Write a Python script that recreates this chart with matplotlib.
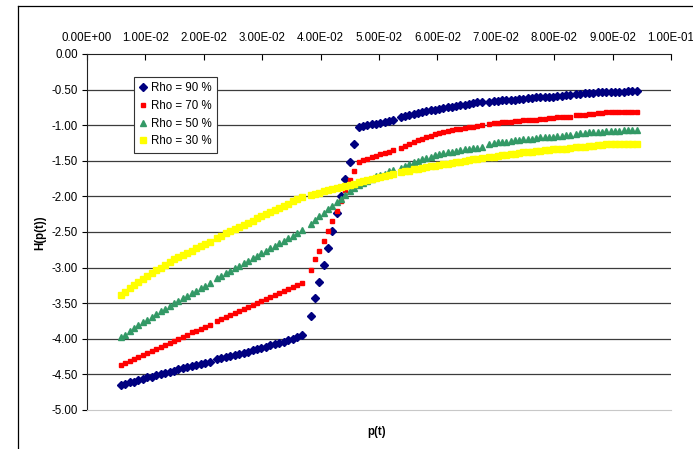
import matplotlib
matplotlib.use('Agg')
import matplotlib.pyplot as plt
from matplotlib.lines import Line2D

plt.rcParams['font.family'] = ['Liberation Sans', 'DejaVu Sans']
plt.rcParams['axes.unicode_minus'] = False

# p(t) values (x axis)
p_t = [0.00577, 0.00653, 0.00729, 0.00805, 0.00881, 0.00958, 0.01034, 0.01110, 0.01186, 0.01262,
       0.01338, 0.01414, 0.01490, 0.01566, 0.01643, 0.01719, 0.01795, 0.01871, 0.01947, 0.02023, 0.02099,
       0.02221, 0.02298, 0.02374, 0.02451, 0.02527, 0.02604, 0.02681, 0.02757, 0.02834, 0.02910,
       0.02987, 0.03064, 0.03140, 0.03217, 0.03293, 0.03370, 0.03446, 0.03523, 0.03600, 0.03676,
       0.03830, 0.03905, 0.03979, 0.04054, 0.04128, 0.04203, 0.04277, 0.04352, 0.04426, 0.04501,
       0.04575, 0.04650, 0.04724, 0.04799, 0.04873, 0.04948, 0.05022, 0.05097, 0.05171, 0.05245,
       0.05372, 0.05445, 0.05518, 0.05591, 0.05664, 0.05737, 0.05810, 0.05883, 0.05956, 0.06029,
       0.06102, 0.06175, 0.06248, 0.06321, 0.06394, 0.06467, 0.06540, 0.06613, 0.06686, 0.06759,
       0.06889, 0.06962, 0.07035, 0.07107, 0.07180, 0.07253, 0.07325, 0.07398, 0.07471, 0.07544,
       0.07616, 0.07689, 0.07762, 0.07834, 0.07907, 0.07980, 0.08053, 0.08125, 0.08198, 0.08271,
       0.08373, 0.08447, 0.08522, 0.08596, 0.08670, 0.08745, 0.08819, 0.08893, 0.08968, 0.09042,
       0.09116, 0.09190, 0.09265, 0.09339, 0.09413]

# H(p(t)) for each Rho
h_rho90 = [-4.65, -4.63, -4.61, -4.60, -4.58, -4.56, -4.54, -4.53, -4.51, -4.49, -4.48, -4.46, -4.45,
           -4.43, -4.41, -4.40, -4.38, -4.37, -4.35, -4.34, -4.32,
           -4.29, -4.27, -4.26, -4.24, -4.23, -4.21, -4.20, -4.18, -4.16, -4.15, -4.13, -4.11, -4.09,
           -4.08, -4.06, -4.04, -4.02, -4.00, -3.97, -3.94,
           -3.68, -3.43, -3.20, -2.96, -2.72, -2.48, -2.24, -2.00, -1.75, -1.51, -1.26, -1.02, -1.01,
           -1.00, -0.99, -0.98, -0.97, -0.96, -0.94, -0.93,
           -0.89, -0.87, -0.86, -0.84, -0.83, -0.81, -0.80, -0.79, -0.78, -0.77, -0.76, -0.75, -0.74,
           -0.73, -0.72, -0.71, -0.70, -0.69, -0.68, -0.67,
           -0.67, -0.66, -0.66, -0.65, -0.65, -0.64, -0.64, -0.63, -0.63, -0.62, -0.62, -0.61, -0.61,
           -0.60, -0.60, -0.60, -0.59, -0.59, -0.58, -0.58,
           -0.56, -0.56, -0.55, -0.55, -0.55, -0.54, -0.54, -0.54, -0.53, -0.53, -0.53, -0.53, -0.52,
           -0.52, -0.52]

h_rho70 = [-4.37, -4.34, -4.31, -4.28, -4.26, -4.23, -4.20, -4.17, -4.14, -4.11, -4.09, -4.06, -4.03,
           -4.00, -3.97, -3.94, -3.91, -3.89, -3.86, -3.83, -3.80,
           -3.75, -3.72, -3.69, -3.67, -3.64, -3.61, -3.58, -3.55, -3.52, -3.50, -3.47, -3.44, -3.41,
           -3.38, -3.36, -3.33, -3.30, -3.27, -3.24, -3.21,
           -3.03, -2.88, -2.76, -2.62, -2.48, -2.34, -2.20, -2.07, -1.91, -1.77, -1.64, -1.51, -1.49,
           -1.47, -1.45, -1.43, -1.41, -1.39, -1.37, -1.35,
           -1.32, -1.29, -1.26, -1.23, -1.21, -1.19, -1.17, -1.15, -1.13, -1.11, -1.09, -1.08, -1.07,
           -1.06, -1.05, -1.04, -1.03, -1.02, -1.01, -1.00,
           -0.98, -0.97, -0.97, -0.96, -0.95, -0.95, -0.94, -0.94, -0.93, -0.93, -0.92, -0.92, -0.91,
           -0.91, -0.90, -0.90, -0.89, -0.89, -0.88, -0.88,
           -0.86, -0.85, -0.85, -0.84, -0.84, -0.83, -0.83, -0.82, -0.82, -0.82, -0.82, -0.82, -0.82,
           -0.82, -0.82]

h_rho50 = [-3.98, -3.94, -3.89, -3.85, -3.81, -3.77, -3.73, -3.69, -3.65, -3.61, -3.58, -3.54, -3.50,
           -3.47, -3.43, -3.40, -3.36, -3.33, -3.29, -3.26, -3.22,
           -3.15, -3.12, -3.08, -3.05, -3.01, -2.98, -2.94, -2.91, -2.87, -2.84, -2.80, -2.77, -2.73,
           -2.70, -2.66, -2.63, -2.59, -2.56, -2.52, -2.47,
           -2.39, -2.33, -2.28, -2.23, -2.18, -2.13, -2.08, -2.03, -1.98, -1.93, -1.88, -1.84, -1.81,
           -1.78, -1.75, -1.72, -1.70, -1.68, -1.65, -1.63,
           -1.60, -1.57, -1.55, -1.52, -1.50, -1.48, -1.46, -1.44, -1.42, -1.41, -1.39, -1.38, -1.37,
           -1.36, -1.35, -1.34, -1.33, -1.32, -1.32, -1.31,
           -1.26, -1.25, -1.24, -1.24, -1.23, -1.22, -1.21, -1.21, -1.20, -1.19, -1.19, -1.18, -1.17,
           -1.17, -1.16, -1.16, -1.15, -1.15, -1.14, -1.14,
           -1.12, -1.11, -1.11, -1.10, -1.10, -1.09, -1.09, -1.08, -1.08, -1.08, -1.08, -1.07, -1.07,
           -1.07, -1.07]

h_rho30 = [-3.39, -3.34, -3.29, -3.24, -3.20, -3.16, -3.12, -3.08, -3.04, -3.00, -2.96, -2.92, -2.88,
           -2.85, -2.82, -2.79, -2.76, -2.73, -2.70, -2.67, -2.64,
           -2.58, -2.55, -2.52, -2.49, -2.46, -2.43, -2.40, -2.37, -2.34, -2.31, -2.28, -2.25, -2.22,
           -2.19, -2.16, -2.13, -2.10, -2.07, -2.04, -2.01,
           -1.98, -1.96, -1.95, -1.93, -1.91, -1.90, -1.88, -1.87, -1.85, -1.84, -1.82, -1.80, -1.79,
           -1.77, -1.76, -1.74, -1.73, -1.71, -1.70, -1.69,
           -1.66, -1.65, -1.64, -1.62, -1.61, -1.60, -1.59, -1.58, -1.57, -1.56, -1.55, -1.54, -1.53,
           -1.52, -1.51, -1.50, -1.49, -1.48, -1.47, -1.46,
           -1.45, -1.44, -1.43, -1.42, -1.42, -1.41, -1.40, -1.39, -1.38, -1.38, -1.37, -1.36, -1.36,
           -1.35, -1.35, -1.34, -1.34, -1.33, -1.33, -1.32,
           -1.31, -1.30, -1.30, -1.29, -1.29, -1.28, -1.28, -1.27, -1.27, -1.27, -1.27, -1.27, -1.27,
           -1.27, -1.27]

labels = ['Rho = 90 %', 'Rho = 70 %', 'Rho = 50 %', 'Rho = 30 %']
x_ticks = [0.0, 0.01, 0.02, 0.03, 0.04, 0.05, 0.06, 0.07, 0.08, 0.09, 0.10]
x_tick_labels = ['0.00E+00', '1.00E-02', '2.00E-02', '3.00E-02', '4.00E-02', '5.00E-02',
                 '6.00E-02', '7.00E-02', '8.00E-02', '9.00E-02', '1.00E-01']
y_ticks = [0.0, -0.5, -1.0, -1.5, -2.0, -2.5, -3.0, -3.5, -4.0, -4.5, -5.0]

fs = 8.3
fig = plt.figure(figsize=(6.93, 4.49), dpi=100)
ax = fig.add_axes([87 / 693, 1 - 410 / 449, 584 / 693, 356 / 449])

# gridlines
for yv in y_ticks[1:-1]:
    ax.axhline(yv, color='#3c3c3c', linewidth=0.9, zorder=1)

ax.plot(p_t, h_rho90, linestyle='none', marker='D', markersize=4.4, color='#000080', label=labels[0], zorder=3)
ax.plot(p_t, h_rho70, linestyle='none', marker='s', markersize=3.0, color='#FF0000', label=labels[1], zorder=3)
ax.plot(p_t, h_rho50, linestyle='none', marker='^', markersize=4.6, color='#339966', label=labels[2], zorder=3)
ax.plot(p_t, h_rho30, linestyle='none', marker='s', markersize=4.3, color='#FFFF00', label=labels[3], zorder=3)

ax.set_xlim(0, 0.1)
ax.set_ylim(-5, 0)

ax.xaxis.tick_top()
ax.set_xticks(x_ticks)
ax.set_xticklabels(x_tick_labels, fontsize=fs)
ax.tick_params(axis='x', direction='in', length=4, width=0.8, pad=7)
ax.set_yticks(y_ticks)
ax.set_yticklabels(['%.2f' % v for v in y_ticks], fontsize=fs)
ax.tick_params(axis='y', direction='out', length=3.5, width=0.8, pad=3)

ax.spines['right'].set_visible(False)
ax.spines['bottom'].set_color('#c8c8c8')
ax.spines['top'].set_color('#222222')
ax.spines['left'].set_color('#222222')

fig.text(40 / 693, 1 - 233 / 449, 'H(p(t))', rotation=90, ha='center', va='center',
         fontsize=fs, fontweight='bold')
fig.text(377 / 693, 1 - 432 / 449, 'p(t)', ha='center', va='center', fontsize=fs, fontweight='bold')

leg = ax.legend(loc='upper left', bbox_to_anchor=((134 - 87) / 584, (410 - 77) / 356),
                borderaxespad=0, fontsize=fs, numpoints=1, fancybox=False, framealpha=1,
                edgecolor='#333333', handlelength=0.7, handletextpad=0.35, borderpad=0.45,
                labelspacing=0.5)
leg.get_frame().set_linewidth(0.8)

# chart border
fig.add_artist(Line2D([18 / 693, 18 / 693], [0, 1 - 6 / 449], color='black', linewidth=0.9))
fig.add_artist(Line2D([18 / 693, 1], [1 - 6 / 449, 1 - 6 / 449], color='black', linewidth=0.9))

fig.savefig('out.png', dpi=100)
